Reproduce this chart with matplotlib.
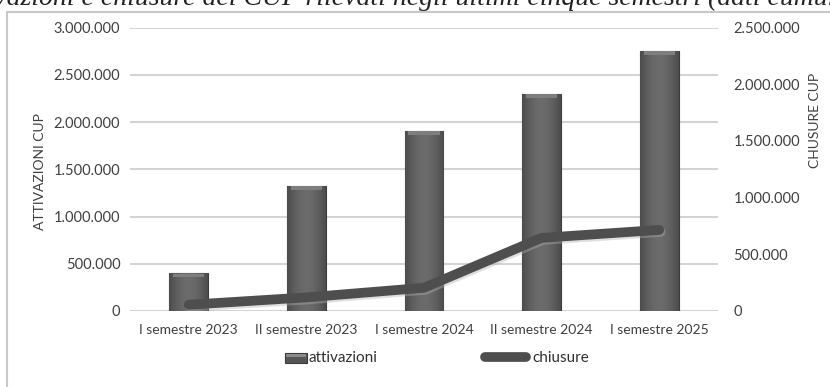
import matplotlib
matplotlib.use("Agg")
import matplotlib.pyplot as plt
import matplotlib.patheffects as pe
from matplotlib.patches import Rectangle, Patch
from matplotlib.lines import Line2D
from matplotlib.legend_handler import HandlerBase
from matplotlib.ticker import FuncFormatter, MultipleLocator
import numpy as np

categories = ["I semestre 2023", "II semestre 2023", "I semestre 2024",
              "II semestre 2024", "I semestre 2025"]
attivazioni = [400000, 1325000, 1910000, 2300000, 2755000]
chiusure = [55000, 120000, 205000, 645000, 715000]
title = "Attivazioni e chiusure dei CUP rilevati negli ultimi cinque semestri (dati cumulati)"

W, H = 830, 387
fig = plt.figure(figsize=(W / 100, H / 100), dpi=100)
fig.patch.set_facecolor("white")

FONT = ["Lato", "DejaVu Sans"]
TXT = "#404040"

# frame
fig.add_artist(Rectangle((7 / W, -0.05), 1.0, 1 - 12 / H + 0.05, transform=fig.transFigure,
                         fill=False, edgecolor="#c8c8c8", linewidth=1.5))

# cut-off caption at top: size and offset fitted so that it is cropped like the reference
renderer = fig.canvas.get_renderer()
TS = 20.0
def _w(s):
    t = fig.text(0, 0, s, fontsize=TS, family="Liberation Serif", style="italic")
    bb = t.get_window_extent(renderer)
    t.remove()
    return bb.width
iE = title.index(" e ") + 1
iP = title.index("(")
startE = _w(title[:iE + 1]) - _w("e")
startP = _w(title[:iP + 1]) - _w("(")
scale = (707 - 82) / (startP - startE)
fs = TS * scale
x0 = 82 - startE * scale
fig.text(x0 / W, 1 - 5 / H, title, fontsize=fs, family="Liberation Serif", style="italic",
         color="#222222", ha="left", va="baseline")

left, right = 130 / W, 718 / W
top, bottom = 1 - 27.5 / H, 1 - 311 / H
ax = fig.add_axes([left, bottom, right - left, top - bottom])
ax2 = ax.twinx()

x = np.arange(len(categories))
bars = ax.bar(x, attivazioni, width=0.33, color="#5a5a5a", edgecolor="#3c3c3c",
              linewidth=0.8, zorder=3, label="attivazioni")
grad = np.linspace(0, 1, 64)
shade = 0.30 + 0.12 * np.sin(np.pi * grad)
img = np.tile(shade, (2, 1))
for b in bars:
    bx, by = b.get_x(), b.get_y()
    w, h = b.get_width(), b.get_height()
    im = ax.imshow(img, cmap="gray", vmin=0, vmax=1, aspect="auto",
                   extent=(bx, bx + w, by, by + h), zorder=3.5, interpolation="bilinear")
    im.set_clip_path(b)
    ax.bar(bx + w / 2, 40000, bottom=by + h - 45000, width=w * 0.8,
           color="#7e7e7e", linewidth=0, zorder=3.6)

ax.set_xlim(-0.5, len(categories) - 0.5)
ax.set_ylim(0, 3000000)
ax2.set_ylim(0, 2500000)
ax.yaxis.set_major_locator(MultipleLocator(500000))
ax2.yaxis.set_major_locator(MultipleLocator(500000))

fmt = FuncFormatter(lambda v, p: f"{int(round(v)):,}".replace(",", "."))
ax.yaxis.set_major_formatter(fmt)
ax2.yaxis.set_major_formatter(fmt)

ax.grid(axis="y", color="#d4d4d4", linewidth=1.5, zorder=0)
ax.set_axisbelow(True)
for a in (ax, ax2):
    for s in a.spines.values():
        s.set_visible(False)
    a.tick_params(length=0)

ax.set_xticks(x)
ax.set_xticklabels(categories, fontsize=10, family=FONT, color=TXT)
ax.tick_params(axis="x", pad=9)
for lab in ax.get_yticklabels() + ax2.get_yticklabels():
    lab.set_fontsize(10.5); lab.set_family(FONT); lab.set_color(TXT)
ax.tick_params(axis="y", pad=7)
ax2.tick_params(axis="y", pad=11)

fig.text(40 / W, 1 - 172 / H, "ATTIVAZIONI CUP", rotation=90, fontsize=10, family=FONT,
         color=TXT, ha="center", va="center")
fig.text(815 / W, 1 - 120 / H, "CHUSURE CUP", rotation=90, fontsize=10, family=FONT,
         color=TXT, ha="center", va="center")

line, = ax2.plot(x, chiusure, color="#4e4e4e", linewidth=7, solid_capstyle="round",
                 solid_joinstyle="round", zorder=5, label="chiusure",
                 path_effects=[pe.SimpleLineShadow(offset=(1, -1.5), shadow_color="#b0b0b0", alpha=0.4),
                               pe.Normal()])
ax2.set_zorder(ax.get_zorder() + 1)
ax2.patch.set_visible(False)


class SmallBox(HandlerBase):
    def create_artists(self, legend, orig_handle, xdescent, ydescent, width, height,
                       fontsize, trans):
        bw = width * 0.55
        bh = height * 1.0
        shift = 0.35 * fontsize
        bx = xdescent + width - bw + shift
        by = ydescent + (height - bh) / 2 - 1
        r = Rectangle((bx, by), bw, bh, facecolor="#555555", edgecolor="#3a3a3a",
                      linewidth=0.8, transform=trans)
        hi = Rectangle((bx + 1, by + bh - 3), bw - 2, 2,
                       facecolor="#8a8a8a", edgecolor="none", transform=trans)
        return [r, hi]


h1 = Patch(facecolor="#5a5a5a", edgecolor="#3c3c3c", label="attivazioni")
h2 = Line2D([0], [0], color="#4e4e4e", linewidth=7, solid_capstyle="round", label="chiusure")
leg = fig.legend(handles=[h1, h2], loc="center", bbox_to_anchor=(425 / W, 1 - 358 / H),
                 ncol=2, frameon=False, handlelength=2.7, handletextpad=0.45,
                 columnspacing=7.0, prop={"family": FONT, "size": 11},
                 handler_map={Patch: SmallBox()})
for t in leg.get_texts():
    t.set_color("#303030")

fig.savefig("out.png", dpi=100, facecolor="white")
